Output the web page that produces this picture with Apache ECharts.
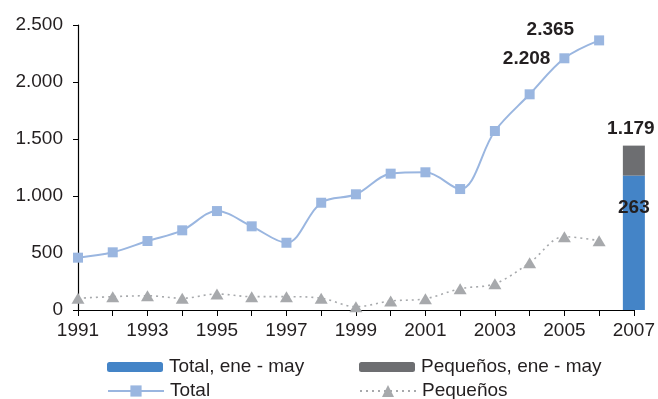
<!DOCTYPE html>
<html>
<head>
<meta charset="utf-8">
<script src="https://cdn.jsdelivr.net/npm/echarts@6/dist/echarts.min.js"></script>
<style>
  html, body { margin: 0; padding: 0; background: #fff; }
  #chart { width: 658px; height: 399px; }
</style>
</head>
<body>
<div id="chart"></div>
<script>
// Years on the horizontal axis
const years = ['1991','1992','1993','1994','1995','1996','1997','1998','1999',
               '2000','2001','2002','2003','2004','2005','2006','2007'];
// Annual series
const total =     [459, 506, 605, 699, 868, 734, 590, 941, 1015, 1196, 1208, 1061, 1570, 1892, 2208, 2365, null];
const pequenos =  [103, 117, 125, 103, 140, 117, 117, 103, 29, 79, 99, 187, 231, 415, 643, 608, null];
// January-May 2007 figures (stacked bar)
const totalEneMay =    [null, null, null, null, null, null, null, null, null, null, null, null, null, null, null, null, 1179];
const pequenosEneMay = [null, null, null, null, null, null, null, null, null, null, null, null, null, null, null, null, 263];
// Years whose Total value gets a label
const labelledYears = ['2005', '2006'];

const FONT = "'Liberation Sans', Arial, sans-serif";
const FS = 19;
const TXT = '#231f20';
const fmt = v => String(Math.round(v)).replace(/\B(?=(\d{3})+(?!\d))/g, '.');
const valueLabel = { fontFamily: FONT, fontWeight: 'bold', fontSize: 19, color: TXT };

const totalData = total.map((v, i) => {
  const y = years[i];
  if (!labelledYears.includes(y)) return v;
  const first = y === labelledYears[0];
  return {
    value: v,
    label: {
      show: true,
      position: 'left',
      distance: first ? 9 : 20,
      offset: first ? [0, 0] : [0, -11]
    }
  };
});

// One legend per entry so the two columns line up
const legendItem = (name, left, top, h) => ({
  left, top, orient: 'horizontal', padding: 0,
  itemWidth: 56, itemHeight: h, itemGap: 0,
  textStyle: { fontFamily: FONT, fontSize: FS, color: TXT, lineHeight: 22, padding: [0, 0, 0, 1] },
  data: [name]
});

const chart = echarts.init(document.getElementById('chart'), null, { renderer: 'canvas' });
chart.setOption({
  animation: false,
  backgroundColor: '#ffffff',
  textStyle: { fontFamily: FONT, color: TXT },
  grid: { left: 78, right: 24, top: 25, bottom: 89, containLabel: false },
  legend: [
    legendItem('Total, ene - may', 107, 356, 10),
    legendItem('Total', 107, 380, 14),
    legendItem('Pequeños, ene - may', 359, 356, 10),
    legendItem('Pequeños', 359, 380, 15)
  ],
  xAxis: {
    type: 'category',
    data: years,
    boundaryGap: false,
    axisLine: { lineStyle: { color: '#000', width: 1.2 } },
    axisTick: { show: true, interval: 0, length: 6, lineStyle: { color: '#000' } },
    axisLabel: { interval: 1, fontFamily: FONT, fontSize: FS, color: TXT, margin: 11 },
    splitLine: { show: false }
  },
  yAxis: {
    type: 'value',
    min: 0, max: 2500, interval: 500,
    axisLine: { show: true, lineStyle: { color: '#000', width: 1.2 } },
    axisTick: { show: true, length: 5, lineStyle: { color: '#000' } },
    axisLabel: { fontFamily: FONT, fontSize: FS, color: TXT, margin: 15, formatter: v => fmt(v) },
    splitLine: { show: false }
  },
  series: [
    {
      name: 'Total, ene - may',
      type: 'bar',
      stack: 'eneMay',
      data: totalEneMay,
      barWidth: 22,
      itemStyle: { color: '#4484c7' },
      label: Object.assign({
        show: true, position: 'insideTop', distance: 23,
        formatter: p => fmt(pequenosEneMay[p.dataIndex])
      }, valueLabel)
    },
    {
      name: 'Pequeños, ene - may',
      type: 'bar',
      stack: 'eneMay',
      data: pequenosEneMay,
      barWidth: 22,
      itemStyle: { color: '#6d6e71' },
      label: Object.assign({
        show: true, position: 'top', distance: 7, offset: [-3, 0],
        formatter: p => fmt(totalEneMay[p.dataIndex])
      }, valueLabel)
    },
    {
      name: 'Total',
      type: 'line',
      data: totalData,
      smooth: 0.35,
      symbol: 'rect',
      symbolSize: 10,
      showAllSymbol: true,
      lineStyle: { color: '#9ab6e0', width: 2 },
      itemStyle: { color: '#9ab6e0' },
      label: Object.assign({ show: false, formatter: p => fmt(p.value) }, valueLabel),
      z: 3
    },
    {
      name: 'Pequeños',
      type: 'line',
      data: pequenos,
      smooth: 0.35,
      symbol: 'triangle',
      symbolSize: [13, 11],
      showAllSymbol: true,
      lineStyle: { color: '#a7a9ac', width: 1.6, type: [2, 4] },
      itemStyle: { color: '#a7a9ac' },
      z: 3
    }
  ]
});
</script>
</body>
</html>
